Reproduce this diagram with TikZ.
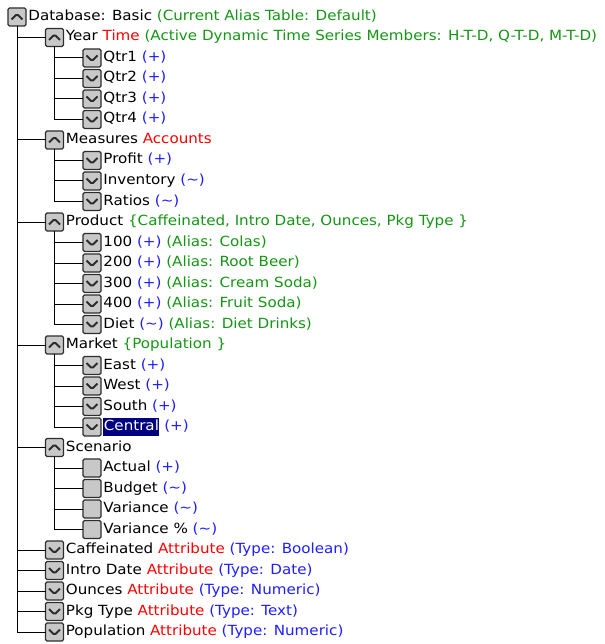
\documentclass[tikz,border=0pt]{standalone}
\usepackage{fontspec}
\setmainfont{DejaVu Sans}[FakeStretch=1.08]
\usetikzlibrary{positioning}
\definecolor{attrred}{RGB}{255,0,0}
\definecolor{aliasgreen}{RGB}{20,150,20}
\definecolor{consblue}{RGB}{30,30,255}
\definecolor{boxgray}{RGB}{200,200,200}
\definecolor{boxedge}{RGB}{45,45,45}
\definecolor{selnavy}{RGB}{0,0,128}
\newcommand{\Tag}[1]{\textcolor{attrred}{#1}}
\newcommand{\Alias}[1]{\textcolor{aliasgreen}{#1}}
\newcommand{\Cons}[1]{\textcolor{consblue}{#1}}
\newcommand{\Tl}{\textasciitilde}
\tikzstyle{member} = [rectangle, draw=boxedge, line width=1.3pt, fill=boxgray, rounded corners=1.5pt, minimum size=18pt, inner sep=0pt, outer sep=0pt]
\tikzstyle{openbox} = [member, path picture={\draw[line width=1.9pt] ([xshift=-5.5pt,yshift=-2.5pt]path picture bounding box.center) -- ++(5.5pt,5.5pt) -- ++(5.5pt,-5.5pt);}]
\tikzstyle{closedbox} = [member, path picture={\draw[line width=1.9pt] ([xshift=-5.5pt,yshift=2.5pt]path picture bounding box.center) -- ++(5.5pt,-5.5pt) -- ++(5.5pt,5.5pt);}]
\tikzstyle{leafbox} = [member]
\tikzstyle{membertext} = [inner sep=2.2pt, text height=10pt, text depth=3pt, font=\fontsize{14}{15}\selectfont]
\tikzstyle{branch} = [line width=1pt, black]

\begin{document}
\begin{tikzpicture}[x=1pt, y=1pt, node distance = 2.5pt]
		\useasboundingbox (0,0) rectangle (604,-644);
		% root
		\node (Database) [openbox] at (17,-17) {};
		\node (DatabaseText) [membertext, right = 0pt of Database] {Database: Basic \Alias{(Current Alias Table: Default)}};
		% Year
		\node (Year) [openbox, below = of Database, xshift=37.5pt] {};
		\node (YearText) [membertext, right = 0pt of Year] {Year \Tag{Time} \Alias{(Active Dynamic Time Series Members: H-T-D, Q-T-D, M-T-D)}};
		\node (Qtr1) [closedbox, below = of Year, xshift=37.5pt] {};
		\node (Qtr1Text) [membertext, right = 0pt of Qtr1] {Qtr1 \Cons{(+)}};
		\node (Qtr2) [closedbox, below = of Qtr1] {};
		\node (Qtr2Text) [membertext, right = 0pt of Qtr2] {Qtr2 \Cons{(+)}};
		\node (Qtr3) [closedbox, below = of Qtr2] {};
		\node (Qtr3Text) [membertext, right = 0pt of Qtr3] {Qtr3 \Cons{(+)}};
		\node (Qtr4) [closedbox, below = of Qtr3] {};
		\node (Qtr4Text) [membertext, right = 0pt of Qtr4] {Qtr4 \Cons{(+)}};
		% Measures
		\node (Measures) [openbox, below = of Qtr4, xshift=-37.5pt] {};
		\node (MeasuresText) [membertext, right = 0pt of Measures] {Measures \Tag{Accounts}};
		\node (Profit) [closedbox, below = of Measures, xshift=37.5pt] {};
		\node (ProfitText) [membertext, right = 0pt of Profit] {Profit \Cons{(+)}};
		\node (Inventory) [closedbox, below = of Profit] {};
		\node (InventoryText) [membertext, right = 0pt of Inventory] {Inventory \Cons{(\Tl)}};
		\node (Ratios) [closedbox, below = of Inventory] {};
		\node (RatiosText) [membertext, right = 0pt of Ratios] {Ratios \Cons{(\Tl)}};
		% Product
		\node (Product) [openbox, below = of Ratios, xshift=-37.5pt] {};
		\node (ProductText) [membertext, right = 0pt of Product] {Product \Alias{\{Caffeinated, Intro Date, Ounces, Pkg Type \}}};
		\node (Colas) [closedbox, below = of Product, xshift=37.5pt] {};
		\node (ColasText) [membertext, right = 0pt of Colas] {100 \Cons{(+)} \Alias{(Alias: Colas)}};
		\node (RootBeer) [closedbox, below = of Colas] {};
		\node (RootBeerText) [membertext, right = 0pt of RootBeer] {200 \Cons{(+)} \Alias{(Alias: Root Beer)}};
		\node (CreamSoda) [closedbox, below = of RootBeer] {};
		\node (CreamSodaText) [membertext, right = 0pt of CreamSoda] {300 \Cons{(+)} \Alias{(Alias: Cream Soda)}};
		\node (FruitSoda) [closedbox, below = of CreamSoda] {};
		\node (FruitSodaText) [membertext, right = 0pt of FruitSoda] {400 \Cons{(+)} \Alias{(Alias: Fruit Soda)}};
		\node (Diet) [closedbox, below = of FruitSoda] {};
		\node (DietText) [membertext, right = 0pt of Diet] {Diet \Cons{(\Tl)} \Alias{(Alias: Diet Drinks)}};
		% Market
		\node (Market) [openbox, below = of Diet, xshift=-37.5pt] {};
		\node (MarketText) [membertext, right = 0pt of Market] {Market \Alias{\{Population \}}};
		\node (East) [closedbox, below = of Market, xshift=37.5pt] {};
		\node (EastText) [membertext, right = 0pt of East] {East \Cons{(+)}};
		\node (West) [closedbox, below = of East] {};
		\node (WestText) [membertext, right = 0pt of West] {West \Cons{(+)}};
		\node (South) [closedbox, below = of West] {};
		\node (SouthText) [membertext, right = 0pt of South] {South \Cons{(+)}};
		\node (Central) [closedbox, below = of South] {};
		\node (CentralText) [membertext, right = 0pt of Central] {{\setlength{\fboxsep}{0.5pt}\colorbox{selnavy}{\color{white}\rule[-4.5pt]{0pt}{17pt}Central}} \Cons{(+)}};
		% Scenario
		\node (Scenario) [openbox, below = of Central, xshift=-37.5pt] {};
		\node (ScenarioText) [membertext, right = 0pt of Scenario] {Scenario};
		\node (Actual) [leafbox, below = of Scenario, xshift=37.5pt] {};
		\node (ActualText) [membertext, right = 0pt of Actual] {Actual \Cons{(+)}};
		\node (Budget) [leafbox, below = of Actual] {};
		\node (BudgetText) [membertext, right = 0pt of Budget] {Budget \Cons{(\Tl)}};
		\node (Variance) [leafbox, below = of Budget] {};
		\node (VarianceText) [membertext, right = 0pt of Variance] {Variance \Cons{(\Tl)}};
		\node (VariancePct) [leafbox, below = of Variance] {};
		\node (VariancePctText) [membertext, right = 0pt of VariancePct] {Variance \% \Cons{(\Tl)}};
		% attribute dimensions
		\node (Caffeinated) [closedbox, below = of VariancePct, xshift=-37.5pt] {};
		\node (CaffeinatedText) [membertext, right = 0pt of Caffeinated] {Caffeinated \Tag{Attribute} \Cons{(Type: Boolean)}};
		\node (IntroDate) [closedbox, below = of Caffeinated] {};
		\node (IntroDateText) [membertext, right = 0pt of IntroDate] {Intro Date \Tag{Attribute} \Cons{(Type: Date)}};
		\node (Ounces) [closedbox, below = of IntroDate] {};
		\node (OuncesText) [membertext, right = 0pt of Ounces] {Ounces \Tag{Attribute} \Cons{(Type: Numeric)}};
		\node (PkgType) [closedbox, below = of Ounces] {};
		\node (PkgTypeText) [membertext, right = 0pt of PkgType] {Pkg Type \Tag{Attribute} \Cons{(Type: Text)}};
		\node (Population) [closedbox, below = of PkgType] {};
		\node (PopulationText) [membertext, right = 0pt of Population] {Population \Tag{Attribute} \Cons{(Type: Numeric)}};
		% tree lines
		\draw [branch] (Database) |- (Year);
		\draw [branch] (Database) |- (Measures);
		\draw [branch] (Database) |- (Product);
		\draw [branch] (Database) |- (Market);
		\draw [branch] (Database) |- (Scenario);
		\draw [branch] (Database) |- (Caffeinated);
		\draw [branch] (Database) |- (IntroDate);
		\draw [branch] (Database) |- (Ounces);
		\draw [branch] (Database) |- (PkgType);
		\draw [branch] (Database) |- (Population);
		\draw [branch] (Year) |- (Qtr1);
		\draw [branch] (Year) |- (Qtr2);
		\draw [branch] (Year) |- (Qtr3);
		\draw [branch] (Year) |- (Qtr4);
		\draw [branch] (Measures) |- (Profit);
		\draw [branch] (Measures) |- (Inventory);
		\draw [branch] (Measures) |- (Ratios);
		\draw [branch] (Product) |- (Colas);
		\draw [branch] (Product) |- (RootBeer);
		\draw [branch] (Product) |- (CreamSoda);
		\draw [branch] (Product) |- (FruitSoda);
		\draw [branch] (Product) |- (Diet);
		\draw [branch] (Market) |- (East);
		\draw [branch] (Market) |- (West);
		\draw [branch] (Market) |- (South);
		\draw [branch] (Market) |- (Central);
		\draw [branch] (Scenario) |- (Actual);
		\draw [branch] (Scenario) |- (Budget);
		\draw [branch] (Scenario) |- (Variance);
		\draw [branch] (Scenario) |- (VariancePct);
	\end{tikzpicture}
\end{document}
